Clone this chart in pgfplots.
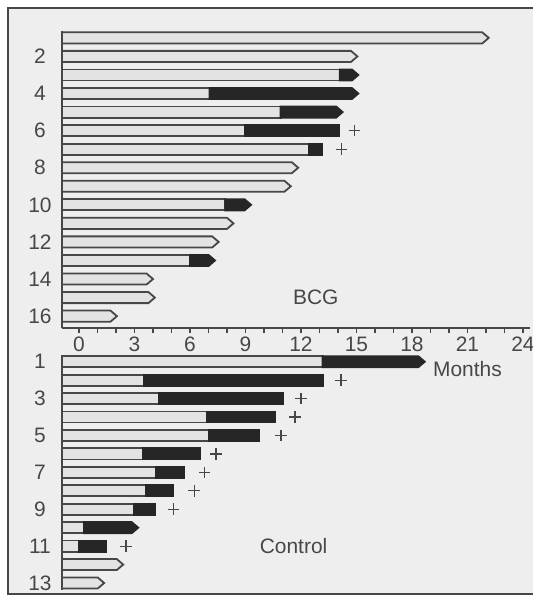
\documentclass[border=0pt]{standalone}
\usepackage{fontspec}
\setmainfont{Liberation Sans}
\usepackage{pgfplots}
\pgfplotsset{compat=1.18}

\definecolor{ink}{gray}{0.28}
\definecolor{paper}{gray}{0.935}

\pgfplotsset{
  panel/.style={
    scale only axis, width=234bp, clip=false,
    xmin=-0.92, xmax=24.38,
    axis line style={-, line width=1bp, ink},
    tick style={line width=0.8bp, ink},
    tick align=outside,
    major tick length=2.5bp, minor tick length=2.5bp,
    /pgf/number format/assume math mode=true,
    ticklabel style={font=\fontsize{10.5}{12}\selectfont, text=ink},
    yticklabel style={anchor=center, xshift=-8.5bp},
    ytick style={draw=none},
  },
  lt/.style={fill=gray!22, draw=ink, line width=0.9bp},
  dk/.style={fill=black!85, draw=black!85, line width=0.9bp},
  cross/.style={only marks, mark=+, mark size=2.9bp, ink, mark options={line width=0.6bp}},
}

\begin{document}
\begin{tikzpicture}
\useasboundingbox (0,0) rectangle (266.5bp,-301bp);
\fill[paper] (4bp,-4bp) rectangle (266.5bp,-297bp);
\draw[ink, line width=1bp] (266.5bp,-4bp) -- (4bp,-4bp) -- (4bp,-297bp) -- (266.5bp,-297bp);

% BCG
\begin{axis}[panel,
  at={(31bp,-15.5bp)}, anchor=north west, height=148.5bp,
  ymin=-16.64, ymax=-0.63,
  axis x line*=bottom, axis y line*=left,
  xtick={0,3,...,24}, minor xtick={0,...,24},
  xticklabel style={anchor=center, yshift=-5.5bp},
  ytick={-16,-14,...,-2}, yticklabels={16,14,12,10,8,6,4,2},
]
% light only, open end
\addplot[lt] coordinates {(-0.92,-0.7)(21.8,-0.7)(22.15,-1)(21.8,-1.3)(-0.92,-1.3)} --cycle;
\addplot[lt] coordinates {(-0.92,-1.7)(14.7,-1.7)(15.05,-2)(14.7,-2.3)(-0.92,-2.3)} --cycle;
\addplot[lt] coordinates {(-0.92,-7.7)(11.5,-7.7)(11.85,-8)(11.5,-8.3)(-0.92,-8.3)} --cycle;
\addplot[lt] coordinates {(-0.92,-8.7)(11.1,-8.7)(11.45,-9)(11.1,-9.3)(-0.92,-9.3)} --cycle;
\addplot[lt] coordinates {(-0.92,-10.7)(8.0,-10.7)(8.35,-11)(8.0,-11.3)(-0.92,-11.3)} --cycle;
\addplot[lt] coordinates {(-0.92,-11.7)(7.2,-11.7)(7.55,-12)(7.2,-12.3)(-0.92,-12.3)} --cycle;
\addplot[lt] coordinates {(-0.92,-13.7)(3.65,-13.7)(4.0,-14)(3.65,-14.3)(-0.92,-14.3)} --cycle;
\addplot[lt] coordinates {(-0.92,-14.7)(3.75,-14.7)(4.1,-15)(3.75,-15.3)(-0.92,-15.3)} --cycle;
\addplot[lt] coordinates {(-0.92,-15.7)(1.7,-15.7)(2.05,-16)(1.7,-16.3)(-0.92,-16.3)} --cycle;
% light part before dark
\addplot[lt] coordinates {(-0.92,-2.7)(14.1,-2.7)(14.1,-3.3)(-0.92,-3.3)} --cycle;
\addplot[lt] coordinates {(-0.92,-3.7)(7.05,-3.7)(7.05,-4.3)(-0.92,-4.3)} --cycle;
\addplot[lt] coordinates {(-0.92,-4.7)(10.9,-4.7)(10.9,-5.3)(-0.92,-5.3)} --cycle;
\addplot[lt] coordinates {(-0.92,-5.7)(8.95,-5.7)(8.95,-6.3)(-0.92,-6.3)} --cycle;
\addplot[lt] coordinates {(-0.92,-6.7)(12.45,-6.7)(12.45,-7.3)(-0.92,-7.3)} --cycle;
\addplot[lt] coordinates {(-0.92,-9.7)(7.9,-9.7)(7.9,-10.3)(-0.92,-10.3)} --cycle;
\addplot[lt] coordinates {(-0.92,-12.7)(6.0,-12.7)(6.0,-13.3)(-0.92,-13.3)} --cycle;
% dark part
\addplot[dk] coordinates {(14.1,-2.7)(14.75,-2.7)(15.1,-3)(14.75,-3.3)(14.1,-3.3)} --cycle;
\addplot[dk] coordinates {(7.05,-3.7)(14.75,-3.7)(15.1,-4)(14.75,-4.3)(7.05,-4.3)} --cycle;
\addplot[dk] coordinates {(10.9,-4.7)(13.9,-4.7)(14.25,-5)(13.9,-5.3)(10.9,-5.3)} --cycle;
\addplot[dk] coordinates {(8.95,-5.7)(14.05,-5.7)(14.05,-6.3)(8.95,-6.3)} --cycle;
\addplot[dk] coordinates {(12.45,-6.7)(13.15,-6.7)(13.15,-7.3)(12.45,-7.3)} --cycle;
\addplot[dk] coordinates {(7.9,-9.7)(8.95,-9.7)(9.3,-10)(8.95,-10.3)(7.9,-10.3)} --cycle;
\addplot[dk] coordinates {(6.0,-12.7)(7.0,-12.7)(7.35,-13)(7.0,-13.3)(6.0,-13.3)} --cycle;
% deaths
\addplot[cross] coordinates {(14.9,-6)(14.2,-7)};
\node[text=ink, font=\fontsize{10.5}{12}\selectfont] at (axis cs:12.8,-14.97) {BCG};
\end{axis}

% Control
\begin{axis}[panel,
  at={(31bp,-177.5bp)}, anchor=north west, height=117.5bp,
  ymin=-13.38, ymax=-0.636,
  axis x line=none, axis y line*=left,
  ytick={-13,-11,...,-1}, yticklabels={13,11,9,7,5,3,1},
]
\addplot[lt] coordinates {(-0.92,-11.7)(2.04,-11.7)(2.39,-12)(2.04,-12.3)(-0.92,-12.3)} --cycle;
\addplot[lt] coordinates {(-0.92,-12.7)(1.01,-12.7)(1.36,-13)(1.01,-13.3)(-0.92,-13.3)} --cycle;
\addplot[lt] coordinates {(-0.92,-0.7)(13.17,-0.7)(13.17,-1.3)(-0.92,-1.3)} --cycle;
\addplot[lt] coordinates {(-0.92,-1.7)(3.53,-1.7)(3.53,-2.3)(-0.92,-2.3)} --cycle;
\addplot[lt] coordinates {(-0.92,-2.7)(4.34,-2.7)(4.34,-3.3)(-0.92,-3.3)} --cycle;
\addplot[lt] coordinates {(-0.92,-3.7)(6.9,-3.7)(6.9,-4.3)(-0.92,-4.3)} --cycle;
\addplot[lt] coordinates {(-0.92,-4.7)(7.03,-4.7)(7.03,-5.3)(-0.92,-5.3)} --cycle;
\addplot[lt] coordinates {(-0.92,-5.7)(3.44,-5.7)(3.44,-6.3)(-0.92,-6.3)} --cycle;
\addplot[lt] coordinates {(-0.92,-6.7)(4.16,-6.7)(4.16,-7.3)(-0.92,-7.3)} --cycle;
\addplot[lt] coordinates {(-0.92,-7.7)(3.6,-7.7)(3.6,-8.3)(-0.92,-8.3)} --cycle;
\addplot[lt] coordinates {(-0.92,-8.7)(2.94,-8.7)(2.94,-9.3)(-0.92,-9.3)} --cycle;
\addplot[lt] coordinates {(-0.92,-9.7)(0.27,-9.7)(0.27,-10.3)(-0.92,-10.3)} --cycle;
\addplot[lt] coordinates {(-0.92,-10.7)(0.0,-10.7)(0.0,-11.3)(-0.92,-11.3)} --cycle;
\addplot[dk] coordinates {(13.17,-0.7)(18.34,-0.7)(18.69,-1)(18.34,-1.3)(13.17,-1.3)} --cycle;
\addplot[dk] coordinates {(3.53,-1.7)(13.2,-1.7)(13.2,-2.3)(3.53,-2.3)} --cycle;
\addplot[dk] coordinates {(4.34,-2.7)(11.04,-2.7)(11.04,-3.3)(4.34,-3.3)} --cycle;
\addplot[dk] coordinates {(6.9,-3.7)(10.6,-3.7)(10.6,-4.3)(6.9,-4.3)} --cycle;
\addplot[dk] coordinates {(7.03,-4.7)(9.75,-4.7)(9.75,-5.3)(7.03,-5.3)} --cycle;
\addplot[dk] coordinates {(3.44,-5.7)(6.54,-5.7)(6.54,-6.3)(3.44,-6.3)} --cycle;
\addplot[dk] coordinates {(4.16,-6.7)(5.68,-6.7)(5.68,-7.3)(4.16,-7.3)} --cycle;
\addplot[dk] coordinates {(3.6,-7.7)(5.1,-7.7)(5.1,-8.3)(3.6,-8.3)} --cycle;
\addplot[dk] coordinates {(2.94,-8.7)(4.13,-8.7)(4.13,-9.3)(2.94,-9.3)} --cycle;
\addplot[dk] coordinates {(0.27,-9.7)(2.85,-9.7)(3.2,-10)(2.85,-10.3)(0.27,-10.3)} --cycle;
\addplot[dk] coordinates {(0.0,-10.7)(1.46,-10.7)(1.46,-11.3)(0.0,-11.3)} --cycle;
\addplot[cross] coordinates {(14.16,-2)(12.0,-3)(11.68,-4)(10.92,-5)(7.4,-6)(6.78,-7)(6.23,-8)(5.1,-9)(2.54,-11)};
\node[text=ink, font=\fontsize{10.5}{12}\selectfont] at (axis cs:21.0,-1.4) {Months};
\node[text=ink, font=\fontsize{10.5}{12}\selectfont] at (axis cs:11.6,-11.0) {Control};
\end{axis}
\end{tikzpicture}
\end{document}
